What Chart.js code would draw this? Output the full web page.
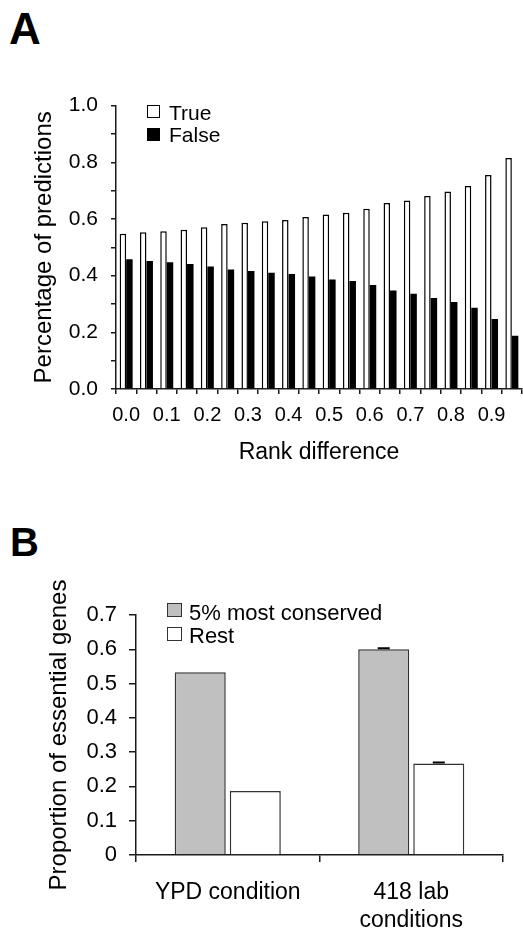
<!DOCTYPE html>
<html>
<head>
<meta charset="utf-8">
<script src="https://cdn.jsdelivr.net/npm/chart.js@4.4.1/dist/chart.umd.min.js"></script>
<style>
  body { margin: 0; background: #fff; width: 523px; height: 933px; position: relative; overflow: hidden; font-family: "Liberation Sans", Arial, sans-serif; color: #000; }
  .box { position: absolute; }
  .panel { position: absolute; font-weight: bold; line-height: 1; }
  .leg { position: absolute; line-height: 1; white-space: nowrap; }
  .sw { position: absolute; box-sizing: border-box; }
</style>
</head>
<body>
<div class="panel" style="left:9px;top:7px;font-size:44px;">A</div>
<div class="panel" style="left:10px;top:522px;font-size:40px;">B</div>

<div class="box" style="left:0;top:80px;width:523px;height:400px;"><canvas id="chartA" width="523" height="400"></canvas></div>
<div class="box" style="left:0;top:570px;width:523px;height:363px;"><canvas id="chartB" width="523" height="363"></canvas></div>

<!-- legends -->
<div class="sw" id="swTrue" style="left:147px;top:105px;width:13px;height:13px;"></div>
<div class="leg" style="left:169px;top:102px;font-size:21px;">True</div>
<div class="sw" id="swFalse" style="left:147px;top:128px;width:13px;height:13px;"></div>
<div class="leg" style="left:169px;top:124px;font-size:21px;">False</div>

<div class="sw" id="swCons" style="left:167px;top:603px;width:15px;height:14px;"></div>
<div class="leg" style="left:189px;top:602px;font-size:22px;">5% most conserved</div>
<div class="sw" id="swRest" style="left:167px;top:627px;width:15px;height:14px;"></div>
<div class="leg" style="left:189px;top:625px;font-size:22px;">Rest</div>

<script>
// panel A data
const rankDiff = ['0.0','0.05','0.1','0.15','0.2','0.25','0.3','0.35','0.4','0.45',
                  '0.5','0.55','0.6','0.65','0.7','0.75','0.8','0.85','0.9','0.95'];
const trueVals = [0.548, 0.553, 0.557, 0.562, 0.571, 0.582, 0.587, 0.592, 0.596, 0.607,
                  0.616, 0.622, 0.636, 0.656, 0.665, 0.681, 0.697, 0.716, 0.755, 0.815];
const falseVals = [0.458, 0.452, 0.447, 0.441, 0.432, 0.422, 0.416, 0.410, 0.406, 0.397,
                   0.386, 0.381, 0.367, 0.348, 0.336, 0.321, 0.307, 0.287, 0.247, 0.188];

// panel B data
const conditions = ['YPD condition', ['418 lab', 'conditions']];
const consVals = [0.533, 0.600];
const restVals = [0.187, 0.267];
const consErr = [0, 0.003];
const restErr = [0, 0.003];

const AXIS = '#1a1a1a';
const GRAY = '#c0c0c0';

Chart.defaults.font.family = '"Liberation Sans", Arial, sans-serif';
Chart.defaults.color = '#000';

document.getElementById('swTrue').style.cssText += ';background:#fff;border:1.5px solid #000';
document.getElementById('swFalse').style.cssText += ';background:#000;border:1.5px solid #000';
document.getElementById('swCons').style.cssText += ';background:' + GRAY + ';border:1.5px solid #333';
document.getElementById('swRest').style.cssText += ';background:#fff;border:1.5px solid #333';

// small caps on top of bars that carry an error value
const errorBars = {
    id: 'errorBars',
    afterDatasetsDraw(chart) {
        const ctx = chart.ctx;
        const y = chart.scales.y;
        chart.data.datasets.forEach((ds, di) => {
            if (!ds.err) return;
            chart.getDatasetMeta(di).data.forEach((bar, i) => {
                const e = ds.err[i];
                if (!e) return;
                const top = y.getPixelForValue(ds.data[i] + e);
                ctx.save();
                ctx.strokeStyle = '#000';
                ctx.lineWidth = 2;
                ctx.beginPath();
                ctx.moveTo(bar.x, bar.y);
                ctx.lineTo(bar.x, top);
                ctx.moveTo(bar.x - 6, top);
                ctx.lineTo(bar.x + 6, top);
                ctx.stroke();
                ctx.restore();
            });
        });
    }
};

new Chart(document.getElementById('chartA'), {
    type: 'bar',
    data: {
        labels: rankDiff,
        datasets: [
            { label: 'True', data: trueVals, backgroundColor: '#fff', borderColor: '#000', borderWidth: 1.5 },
            { label: 'False', data: falseVals, backgroundColor: '#000', borderColor: '#000', borderWidth: 0 }
        ]
    },
    options: {
        responsive: false,
        animation: false,
        categoryPercentage: 0.64,
        barPercentage: 1,
        layout: { padding: { top: 16.5, right: 1, left: 0, bottom: 0 } },
        plugins: { legend: { display: false }, tooltip: { enabled: false } },
        scales: {
            x: {
                offset: true,
                grid: { offset: true, drawOnChartArea: false, drawTicks: true, tickLength: 5, color: AXIS, lineWidth: 1.5 },
                border: { display: true, color: AXIS, width: 1.5 },
                ticks: {
                    autoSkip: false, maxRotation: 0, padding: 9,
                    font: { size: 20, family: '"Liberation Sans Narrow", "Liberation Sans", Arial, sans-serif' },
                    callback: (v, i) => i % 2 === 0 ? rankDiff[i] : ''
                },
                title: { display: true, text: 'Rank difference', font: { size: 23 }, padding: { top: 0, bottom: 14 } },
                afterFit: (s) => { s.height = 91; }
            },
            y: {
                min: 0, max: 1,
                grid: { drawOnChartArea: false, drawTicks: true, tickLength: 5, color: AXIS, lineWidth: 1.5 },
                border: { display: true, color: AXIS, width: 1.5 },
                ticks: {
                    stepSize: 0.1, padding: 13, font: { size: 21 },
                    callback: (v) => Math.round(v * 10) % 2 === 0 ? v.toFixed(1) : ''
                },
                title: { display: true, text: 'Percentage of predictions', font: { size: 24 }, padding: { top: 30, bottom: 0 } },
                afterFit: (s) => { s.width = 116; }
            }
        }
    }
});

new Chart(document.getElementById('chartB'), {
    type: 'bar',
    data: {
        labels: conditions,
        datasets: [
            { label: '5% most conserved', data: consVals, err: consErr, backgroundColor: GRAY, borderColor: '#333', borderWidth: 1.5 },
            { label: 'Rest', data: restVals, err: restErr, backgroundColor: '#fff', borderColor: '#333', borderWidth: 1.5 }
        ]
    },
    options: {
        responsive: false,
        animation: false,
        categoryPercentage: 0.6,
        barPercentage: 0.927,
        layout: { padding: { top: 45, right: 20, left: 0, bottom: 0 } },
        plugins: { legend: { display: false }, tooltip: { enabled: false } },
        scales: {
            x: {
                offset: true,
                grid: { offset: true, drawOnChartArea: false, drawTicks: true, tickLength: 7, color: AXIS, lineWidth: 1.5 },
                border: { display: true, color: AXIS, width: 1.5 },
                ticks: { autoSkip: false, maxRotation: 0, padding: 16, font: { size: 23, lineHeight: 1.25 } },
                afterFit: (s) => { s.height = 78; }
            },
            y: {
                min: 0, max: 0.7,
                grid: { drawOnChartArea: false, drawTicks: true, tickLength: 7, color: AXIS, lineWidth: 1.5 },
                border: { display: true, color: AXIS, width: 1.5 },
                ticks: {
                    stepSize: 0.1, padding: 12, font: { size: 22 },
                    callback: (v) => v === 0 ? '0' : v.toFixed(1)
                },
                title: { display: true, text: 'Proportion of essential genes', font: { size: 24 }, padding: { top: 45, bottom: 0 } },
                afterFit: (s) => { s.width = 136; }
            }
        }
    },
    plugins: [errorBars]
});
</script>
</body>
</html>
